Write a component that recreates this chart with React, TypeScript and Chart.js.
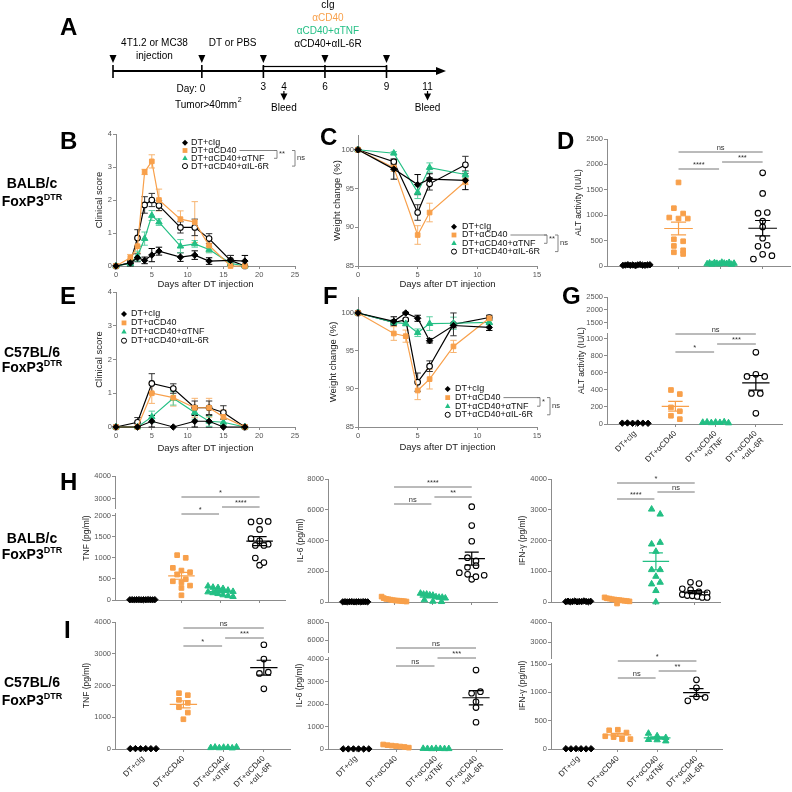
import React, { useEffect, useRef } from "react";
import { Chart, registerables } from "chart.js";
Chart.register(...registerables);

const FONT = "'Liberation Sans', Arial, Helvetica, sans-serif";
const ORANGE = "#F8A04B";
const GREEN = "#23BF84";
const AXIS = "#8c8c8c";
const TICK = "#555555";
const TXT = "#222222";

// ---------- Panel A (timeline) ----------
const TL_START_DAY = -4.33;
const TL_END_DAY = 11.9;
const TL_INJECT_DAYS = [-4.33, 0, 3, 6, 9];
const TL_NUM_DAYS = [3, 4, 6, 9, 11];
const TL_BLEED_DAYS = [4, 11];
const TL_TREAT = [3, 9];
const TL_TREATMENTS = ["cIg", "αCD40", "αCD40+αTNF", "αCD40+αIL-6R"];

// ---------- groups ----------
const GROUPS = ["DT+cIg", "DT+αCD40", "DT+αCD40+αTNF", "DT+αCD40+αIL-6R"];
const CAT_LABELS = [["DT+cIg"], ["DT+αCD40"], ["DT+αCD40", "+αTNF"], ["DT+αCD40", "+αIL-6R"]];

// ---------- B: clinical score BALB/c ----------
const B_DAYS = [0, 2, 3, 4, 5, 6, 9, 11, 13, 16, 18];
const B_CIG = [0, 0.09, 0.25, 0.17, 0.33, 0.45, 0.27, 0.33, 0.15, 0.17, 0.15];
const B_CIG_SEM = [0, 0.09, 0.12, 0.1, 0.2, 0.12, 0.13, 0.13, 0.1, 0.15, 0.17];
const B_CD40 = [0, 0.25, 0.6, 2.85, 3.17, 2.0, 1.42, 1.33, 0.62, 0, 0];
const B_CD40_SEM = [0, 0.1, 0.2, 0.08, 0.2, 0.33, 0.25, 0.62, 0.2, 0, 0];
const B_TNF = [0, 0.08, 0.3, 0.83, 1.53, 1.33, 0.6, 0.67, 0.5, 0.08, 0];
const B_TNF_SEM = [0, 0.08, 0.15, 0.2, 0.15, 0.1, 0.2, 0.1, 0.1, 0.08, 0];
const B_IL6R = [0, 0.1, 0.85, 1.85, 2.0, 1.83, 1.17, 1.17, 0.83, 0.17, 0];
const B_IL6R_SEM = [0, 0.1, 0.25, 0.25, 0.2, 0.15, 0.17, 0.25, 0.15, 0.15, 0];

// ---------- C: weight BALB/c ----------
const C_DAYS = [0, 3, 5, 6, 9];
const C_CIG = [100, 97.5, 95.5, 96.2, 96.05];
const C_CIG_SEM = [0, 1.3, 1.3, 0.7, 1.2];
const C_CD40 = [100, 97.7, 89.0, 91.9, 95.9];
const C_CD40_SEM = [0, 0.5, 1.2, 1.2, 0.4];
const C_TNF = [100, 99.55, 94.5, 97.7, 96.8];
const C_TNF_SEM = [0, 0.2, 0.8, 0.6, 0.4];
const C_IL6R = [100, 98.45, 91.9, 95.6, 98.05];
const C_IL6R_SEM = [0, 0.3, 1.0, 0.8, 1.1];

// ---------- E: clinical score C57BL/6 ----------
const E_DAYS = [0, 3, 5, 8, 11, 13, 15, 18];
const E_CIG = [0, 0, 0.17, 0, 0.17, 0.17, 0, 0];
const E_CIG_SEM = [0, 0, 0.17, 0, 0.17, 0.17, 0, 0];
const E_CD40 = [0, 0, 1.0, 0.87, 0.57, 0.57, 0.3, 0];
const E_CD40_SEM = [0, 0, 0.3, 0.25, 0.28, 0.28, 0.2, 0];
const E_TNF = [0, 0, 0.3, 0.85, 0.43, 0.17, 0.14, 0];
const E_TNF_SEM = [0, 0, 0.17, 0.2, 0.2, 0.15, 0.1, 0];
const E_IL6R = [0, 0.14, 1.29, 1.14, 0.57, 0.57, 0.43, 0];
const E_IL6R_SEM = [0, 0.14, 0.29, 0.14, 0.2, 0.2, 0.2, 0];

// ---------- F: weight C57BL/6 ----------
const F_DAYS = [0, 3, 4, 5, 6, 8, 11];
const F_CIG = [100, 98.9, 100, 99.3, 96.35, 98.35, 98.1];
const F_CIG_SEM = [0, 0.6, 0.1, 0.4, 0.3, 0.3, 0.4];
const F_CD40 = [100, 97.3, 96.95, 89.8, 91.3, 95.6, 99.3];
const F_CD40_SEM = [0, 0.9, 0.8, 1.2, 1.3, 0.8, 0.3];
const F_TNF = [100, 98.75, 98.6, 97.4, 98.6, 98.65, 98.75];
const F_TNF_SEM = [0, 0.3, 0.3, 0.5, 0.9, 0.8, 0.3];
const F_IL6R = [100, 98.75, 99.1, 90.9, 93.0, 98.5, 99.4];
const F_IL6R_SEM = [0, 0.3, 0.2, 1.2, 0.7, 1.5, 0.3];

// ---------- D: ALT BALB/c ----------
const D_CIG = [12, 18, 25, 15, 20, 10, 22, 28, 16, 14, 20, 24];
const D_CD40 = [1645, 1138, 1033, 954, 934, 934, 526, 487, 395, 309, 270, 237];
const D_TNF = [40, 55, 32, 62, 48, 36, 70, 52, 44, 66, 30, 50];
const D_IL6R = [1835, 1428, 1040, 1053, 882, 770, 546, 388, 408, 138, 230, 204];

// ---------- G: ALT C57BL/6 ----------
const G_CIG = [10, 12, 9, 11, 10, 8];
const G_CD40 = [400, 352, 195, 150, 97, 57];
const G_TNF = [18, 22, 14, 20, 16, 24, 12];
const G_IL6R = [843, 560, 585, 560, 360, 360, 125];

// ---------- H: BALB/c cytokines ----------
const HT_CIG = [5, 8, 3, 6, 10, 4, 7, 5, 9, 6, 4, 8];
const HT_CD40 = [1068, 1004, 765, 701, 661, 606, 494, 446, 422, 343, 287, 112];
const HT_TNF = [330, 300, 290, 270, 230, 200, 190, 170, 150, 120, 100, 80];
const HT_IL6R = [1860, 1880, 1870, 1680, 1460, 1410, 1300, 1330, 1300, 1000, 830, 890];

const H6_CIG = [10, 20, 5, 15, 25, 8, 12, 18, 6, 22, 14, 10];
const H6_CD40 = [350, 250, 200, 180, 150, 120, 100, 90, 80, 60, 50, 30];
const H6_TNF = [560, 500, 500, 450, 430, 330, 300, 300, 250, 130, 40, 20];
const H6_IL6R = [6200, 4970, 3950, 2880, 2670, 2260, 2360, 1910, 1800, 1475, 1650, 1740];

const HG_CIG = [10, 25, 5, 15, 30, 8, 20, 12, 35, 18, 6, 22];
const HG_CD40 = [150, 120, 110, 90, 80, 70, 60, 50, 40, 30, 20, -50];
const HG_TNF = [3016, 2854, 1881, 1935, 1643, 1048, 1048, 832, 584, 638, 368, 0];
const HG_IL6R = [640, 600, 430, 400, 330, 300, 240, 210, 200, 180, 150, 150];

// ---------- I: C57BL/6 cytokines ----------
const IT_CIG = [10, 12, 8, 11, 9, 10];
const IT_CD40 = [1758, 1695, 1547, 1453, 1316, 1147, 937];
const IT_TNF = [40, 55, 35, 50, 45, 30, 60];
const IT_IL6R = [3284, 2832, 2379, 2421, 1895];

const I6_CIG = [5, 3, 6, 4, 2, 5];
const I6_CD40 = [200, 170, 150, 130, 110, 90, 60];
const I6_TNF = [20, 15, 10, 20, 15, 10, 12];
const I6_IL6R = [3510, 2480, 2550, 2100, 1840, 1190];

const IG_CIG = [5, 3, 6, 4, 2, 5];
const IG_CD40 = [330, 340, 290, 225, 210, 175, 175];
const IG_TNF = [275, 230, 200, 165, 160, 140];
const IG_IL6R = [1220, 1080, 850, 920, 910];

// ---------- styles ----------
const STY = [
  { ps: "rectRot", r: 3.2, fill: "#000", line: "#000", err: "#000", bw: 1 },
  { ps: "rect", r: 3.3, fill: ORANGE, line: ORANGE, err: "#F7B470", bw: 1 },
  { ps: "triangle", r: 3.7, fill: GREEN, line: GREEN, err: "#5CCFA2", bw: 1 },
  { ps: "circle", r: 2.8, fill: "#fff", line: "#000", err: "#333", bw: 1.1 },
];

function drawMarker(ctx: any, g: number, x: number, y: number, r: number) {
  ctx.save();
  ctx.beginPath();
  if (g === 0) {
    ctx.moveTo(x, y - r); ctx.lineTo(x + r, y); ctx.lineTo(x, y + r); ctx.lineTo(x - r, y); ctx.closePath();
    ctx.fillStyle = "#000"; ctx.fill();
  } else if (g === 1) {
    const s = r * 0.8;
    ctx.rect(x - s, y - s, 2 * s, 2 * s); ctx.fillStyle = ORANGE; ctx.fill();
  } else if (g === 2) {
    ctx.moveTo(x, y - r); ctx.lineTo(x + r * 0.9, y + r * 0.6); ctx.lineTo(x - r * 0.9, y + r * 0.6); ctx.closePath();
    ctx.fillStyle = GREEN; ctx.fill();
  } else {
    ctx.arc(x, y, r * 0.85, 0, Math.PI * 2); ctx.fillStyle = "#fff"; ctx.fill();
    ctx.lineWidth = 1; ctx.strokeStyle = "#000"; ctx.stroke();
  }
  ctx.restore();
}

// ---------- plugins ----------
const errorBarPlugin = {
  id: "errbars",
  beforeDatasetsDraw(chart: any) {
    const ctx = chart.ctx;
    chart.data.datasets.forEach((ds: any, i: number) => {
      if (!ds.sem) return;
      const meta = chart.getDatasetMeta(i);
      const ys = chart.scales.y;
      ctx.save();
      ctx.strokeStyle = ds.errColor || ds.borderColor;
      ctx.lineWidth = 1;
      meta.data.forEach((pt: any, k: number) => {
        const s = ds.sem[k];
        if (!s) return;
        const v = ds.data[k].y;
        const y1 = ys.getPixelForValue(v + s);
        const y2 = ys.getPixelForValue(v - s);
        const x = pt.x;
        ctx.beginPath();
        ctx.moveTo(x, y1); ctx.lineTo(x, y2);
        ctx.moveTo(x - 3.2, y1); ctx.lineTo(x + 3.2, y1);
        ctx.moveTo(x - 3.2, y2); ctx.lineTo(x + 3.2, y2);
        ctx.stroke();
      });
      ctx.restore();
    });
  },
};

const swarmPlugin = {
  id: "swarm",
  afterDatasetsUpdate(chart: any) {
    const xs = chart.scales.x;
    const spacing = Math.abs(xs.getPixelForValue(1) - xs.getPixelForValue(0));
    const step = spacing * 0.22;
    const maxHalf = spacing * 0.32;
    const h = 5.5;
    chart.data.datasets.forEach((ds: any, i: number) => {
      if (!ds.swarm) return;
      const pts = chart.getDatasetMeta(i).data;
      const order = pts.map((_p: any, k: number) => k).sort((a: number, b: number) => pts[a].y - pts[b].y);
      let j = 0;
      while (j < order.length) {
        const y0 = pts[order[j]].y;
        let e = j;
        while (e < order.length && pts[order[e]].y - y0 < h) e++;
        const row = order.slice(j, e).sort((a: number, b: number) => a - b);
        const n = row.length;
        const s = n > 1 ? Math.min(step, (2 * maxHalf) / (n - 1)) : 0;
        row.forEach((k: number, r: number) => {
          pts[k].x += (r - (n - 1) / 2) * s;
        });
        j = e;
      }
    });
  },
};

const meanPlugin = {
  id: "meansem",
  afterDatasetsDraw(chart: any) {
    const ctx = chart.ctx;
    const xs = chart.scales.x;
    const ys = chart.scales.y;
    const spacing = Math.abs(xs.getPixelForValue(1) - xs.getPixelForValue(0));
    chart.data.datasets.forEach((ds: any) => {
      if (!ds.meanBar) return;
      const vals = ds.data.map((d: any) => d.y);
      const n = vals.length;
      const mean = vals.reduce((a: number, b: number) => a + b, 0) / n;
      const sd = Math.sqrt(vals.reduce((a: number, b: number) => a + (b - mean) * (b - mean), 0) / (n - 1));
      const sem = sd / Math.sqrt(n);
      const x = xs.getPixelForValue(ds.data[0].x);
      const ym = ys.getPixelForValue(mean);
      const y1 = ys.getPixelForValue(mean + sem);
      const y2 = ys.getPixelForValue(mean - sem);
      const hw = spacing * 0.34, cw = spacing * 0.18;
      ctx.save();
      ctx.strokeStyle = ds.meanColor;
      ctx.lineWidth = 1.2;
      ctx.beginPath();
      ctx.moveTo(x - hw, ym); ctx.lineTo(x + hw, ym);
      ctx.moveTo(x, y1); ctx.lineTo(x, y2);
      ctx.moveTo(x - cw, y1); ctx.lineTo(x + cw, y1);
      ctx.moveTo(x - cw, y2); ctx.lineTo(x + cw, y2);
      ctx.stroke();
      ctx.restore();
    });
  },
};

const sigPlugin = {
  id: "sig",
  afterDraw(chart: any, _a: any, o: any) {
    if (!o || !o.bars) return;
    const ctx = chart.ctx;
    const xs = chart.scales.x;
    const ca = chart.chartArea;
    ctx.save();
    o.bars.forEach((b: any) => {
      const x1 = xs.getPixelForValue(b.a) + (b.a === 2 ? 1.5 : 0);
      const x2 = xs.getPixelForValue(b.b) - (b.b === 2 ? 1.5 : 0);
      const y = ca.top + b.dy;
      ctx.strokeStyle = "#777";
      ctx.lineWidth = 1;
      ctx.beginPath(); ctx.moveTo(x1, y); ctx.lineTo(x2, y); ctx.stroke();
      ctx.fillStyle = "#333";
      ctx.font = `7.5px ${FONT}`;
      ctx.textAlign = "center";
      ctx.textBaseline = "bottom";
      ctx.fillText(b.t, (x1 + x2) / 2, y - 0.5);
    });
    ctx.restore();
  },
};

const legendPlugin = {
  id: "leg",
  afterDraw(chart: any, _a: any, o: any) {
    if (!o || !o.show) return;
    const ca = chart.chartArea;
    const ctx = chart.ctx;
    ctx.save();
    const rowY = (r: number) => ca.top + o.y0 + r * o.dy;
    ctx.font = `${o.size}px ${FONT}`;
    ctx.textBaseline = "middle";
    ctx.textAlign = "left";
    GROUPS.forEach((label, g) => {
      drawMarker(ctx, g, ca.left + o.mx, rowY(g), 3);
      ctx.fillStyle = "#111";
      ctx.fillText(label, ca.left + o.tx, rowY(g));
    });
    if (o.brackets) {
      const b = o.brackets;
      const endText = ca.left + o.tx + ctx.measureText(GROUPS[b.row]).width + 3;
      ctx.strokeStyle = "#777";
      ctx.lineWidth = 0.9;
      ctx.beginPath(); ctx.moveTo(endText, rowY(b.row)); ctx.lineTo(ca.left + b.items[0].x, rowY(b.row)); ctx.stroke();
      b.items.forEach((it: any) => {
        const x = ca.left + it.x;
        const y1 = rowY(it.r1), y2 = rowY(it.r2);
        ctx.beginPath();
        ctx.moveTo(x - 3, y1); ctx.lineTo(x, y1); ctx.lineTo(x, y2); ctx.lineTo(x - 3, y2);
        ctx.stroke();
        ctx.font = `7.5px ${FONT}`;
        ctx.fillStyle = "#333";
        ctx.fillText(it.t, x + 2, (y1 + y2) / 2);
      });
    }
    ctx.restore();
  },
};

const yTitlePlugin = {
  id: "ytitle",
  afterDraw(chart: any, _a: any, o: any) {
    if (!o || !o.text) return;
    const ca = chart.chartArea;
    const ctx = chart.ctx;
    ctx.save();
    ctx.translate(ca.left - o.off, (ca.top + ca.bottom) / 2);
    ctx.rotate(-Math.PI / 2);
    ctx.font = `${o.size}px ${FONT}`;
    ctx.fillStyle = TXT;
    ctx.textAlign = "center";
    ctx.textBaseline = "middle";
    ctx.fillText(o.text, 0, 0);
    ctx.restore();
  },
};

const breakPlugin = {
  id: "brk",
  afterDraw(chart: any, _a: any, o: any) {
    if (!o || !o.on) return;
    const ctx = chart.ctx;
    const y = chart.scales.y.top;
    const x = chart.chartArea.left;
    ctx.save();
    ctx.fillStyle = "#fff";
    ctx.fillRect(x - 4, y - 2, 7, 4);
    ctx.restore();
  },
};

const timelinePlugin = {
  id: "timeline",
  afterDraw(chart: any) {
    const ctx = chart.ctx;
    const xs = chart.scales.x;
    const px = (d: number) => xs.getPixelForValue(d);
    const Y = 71;
    ctx.save();
    ctx.fillStyle = "#000";
    ctx.strokeStyle = "#000";
    ctx.lineWidth = 1.2;
    ctx.strokeRect(px(TL_TREAT[0]), Y - 4.5, px(TL_TREAT[1]) - px(TL_TREAT[0]), 4.5);
    ctx.lineWidth = 2;
    ctx.beginPath(); ctx.moveTo(px(TL_START_DAY), Y); ctx.lineTo(px(TL_END_DAY) - 8, Y); ctx.stroke();
    ctx.beginPath(); ctx.moveTo(px(TL_END_DAY), Y); ctx.lineTo(px(TL_END_DAY) - 10, Y - 4); ctx.lineTo(px(TL_END_DAY) - 10, Y + 4); ctx.closePath(); ctx.fill();
    ctx.lineWidth = 1.6;
    TL_INJECT_DAYS.forEach((d) => {
      const x = px(d);
      ctx.beginPath(); ctx.moveTo(x, Y - 6); ctx.lineTo(x, Y + 7); ctx.stroke();
      ctx.beginPath(); ctx.moveTo(x - 3.5, 55); ctx.lineTo(x + 3.5, 55); ctx.lineTo(x, 63); ctx.closePath(); ctx.fill();
    });
    TL_BLEED_DAYS.forEach((d) => {
      const x = px(d);
      ctx.lineWidth = 1.2;
      ctx.beginPath(); ctx.moveTo(x, 91); ctx.lineTo(x, 95); ctx.stroke();
      ctx.beginPath(); ctx.moveTo(x - 3.5, 93.5); ctx.lineTo(x + 3.5, 93.5); ctx.lineTo(x, 100.5); ctx.closePath(); ctx.fill();
      ctx.font = `10px ${FONT}`;
      ctx.textAlign = "center";
      ctx.textBaseline = "middle";
      ctx.fillText("Bleed", x, 108);
    });
    ctx.font = `10px ${FONT}`;
    ctx.textAlign = "center";
    ctx.textBaseline = "middle";
    TL_NUM_DAYS.forEach((d) => ctx.fillText(String(d), px(d), 87));
    const midInj = (px(TL_INJECT_DAYS[0]) + px(TL_INJECT_DAYS[1])) / 2;
    ctx.fillText("4T1.2 or MC38", midInj - 3, 43);
    ctx.fillText("injection", midInj - 3, 56);
    ctx.fillText("DT or PBS", (px(0) + px(3)) / 2, 43);
    const colors = ["#000", ORANGE, GREEN, "#000"];
    TL_TREATMENTS.forEach((t, i) => {
      ctx.fillStyle = colors[i];
      ctx.fillText(t, px(6) + 3, 5.5 + i * 12.8);
    });
    ctx.fillStyle = "#000";
    ctx.textAlign = "right";
    ctx.fillText("Day: 0", px(0) + 3.5, 89);
    ctx.textAlign = "left";
    ctx.fillText("Tumor>40mm", 175, 105);
    const w = ctx.measureText("Tumor>40mm").width;
    ctx.font = `7px ${FONT}`;
    ctx.fillText("2", 175 + w + 0.5, 100);
    ctx.restore();
  },
};

// ---------- layout helpers ----------
const PL = 6, PT = 45, PR = 62, PB = 8, YW = 36;
type CA = { l: number; t: number; r: number; b: number };

function frame(ca: CA, xh: number) {
  return {
    x: ca.l - YW - PL,
    y: ca.t - PT,
    w: ca.r - ca.l + YW + PL + PR,
    h: ca.b - ca.t + PT + xh + PB,
    padding: { left: PL, top: PT, right: PR, bottom: PB },
  };
}

function gridOpts() {
  return { display: true, drawOnChartArea: false, drawTicks: true, tickLength: 3, color: AXIS, lineWidth: 1 };
}

function xScale(min: number, max: number, ticks: number[], xh: number, o: any) {
  return {
    type: "linear",
    position: "bottom",
    min,
    max,
    afterBuildTicks: (s: any) => { s.ticks = ticks.map((v) => ({ value: v })); },
    afterFit: (s: any) => { s.height = xh; },
    grid: gridOpts(),
    border: { display: true, color: AXIS, width: 1 },
    ticks: {
      color: o.rotate ? TXT : TICK,
      font: { family: FONT, size: o.rotate ? 8 : 7.5 },
      padding: o.rotate ? 2 : 1,
      autoSkip: false,
      minRotation: o.rotate ? 45 : 0,
      maxRotation: o.rotate ? 45 : 0,
      callback: o.cat ? (v: number) => (o.rotate ? CAT_LABELS[Math.round(v)] : "") : (v: number) => String(v),
    },
    title: o.title
      ? { display: true, text: o.title, color: TXT, font: { family: FONT, size: 9.5 }, padding: 0 }
      : { display: false },
  };
}

function yScale(min: number, max: number, ticks: number[], extra: any = {}) {
  return {
    type: "linear",
    position: "left",
    min,
    max,
    afterBuildTicks: (s: any) => { s.ticks = ticks.map((v) => ({ value: v })); },
    afterFit: (s: any) => { s.width = YW; },
    grid: gridOpts(),
    border: { display: true, color: AXIS, width: 1 },
    ticks: { color: TICK, font: { family: FONT, size: 7.5 }, padding: 1, autoSkip: false, callback: (v: number) => String(v) },
    ...extra,
  };
}

type Spec = { x: number; y: number; w: number; h: number; config: any };

function lineSpec(o: any): Spec {
  const f = frame(o.ca, o.xh);
  const datasets = o.series.map((vals: number[], g: number) => ({
    data: o.days.map((d: number, k: number) => ({ x: d, y: vals[k] })),
    sem: o.sems[g],
    errColor: STY[g].err,
    showLine: true,
    borderColor: STY[g].line,
    backgroundColor: STY[g].fill,
    pointBackgroundColor: STY[g].fill,
    pointBorderColor: STY[g].line,
    pointBorderWidth: STY[g].bw,
    pointStyle: STY[g].ps,
    pointRadius: STY[g].r,
    borderWidth: 1.2,
    clip: false,
  }));
  return {
    x: f.x, y: f.y, w: f.w, h: f.h,
    config: {
      type: "scatter",
      data: { datasets },
      options: {
        responsive: false,
        animation: false,
        events: [],
        layout: { padding: f.padding },
        plugins: {
          legend: { display: false },
          tooltip: { enabled: false },
          ytitle: { text: o.yTitle, off: o.yOff, size: 9.5 },
          leg: o.legend,
        },
        scales: {
          x: xScale(0, o.xMax, o.xTicks, o.xh, { title: "Days after DT injection" }),
          y: yScale(o.yMin, o.yMax, o.yTicks),
        },
      },
      plugins: [errorBarPlugin, legendPlugin, yTitlePlugin],
    },
  };
}

function dotSpec(o: any): Spec {
  const f = frame(o.ca, o.xh);
  const datasets = o.groups.map((vals: number[], g: number) => ({
    data: vals.map((v) => ({ x: g, y: v })),
    yAxisID: "y",
    showLine: false,
    pointStyle: STY[g].ps,
    pointRadius: STY[g].r,
    pointBackgroundColor: STY[g].fill,
    pointBorderColor: STY[g].line,
    pointBorderWidth: STY[g].bw,
    clip: false,
    swarm: true,
    meanBar: true,
    meanColor: STY[g].line,
  }));
  const scales: any = {
    x: xScale(-0.7, 3.65, [0, 1, 2, 3], o.xh, { cat: true, rotate: o.rotate }),
  };
  if (o.up) {
    scales.y = yScale(0, o.lowMax, o.lowTicks, { stack: "brk", stackWeight: o.up.wLow });
    scales.y2 = yScale(o.up.min, o.up.max, o.up.ticks, { stack: "brk", stackWeight: o.up.wUp });
  } else {
    scales.y = yScale(0, o.lowMax, o.lowTicks);
  }
  return {
    x: f.x, y: f.y, w: f.w, h: f.h,
    config: {
      type: "scatter",
      data: { datasets },
      options: {
        responsive: false,
        animation: false,
        events: [],
        layout: { padding: f.padding },
        plugins: {
          legend: { display: false },
          tooltip: { enabled: false },
          ytitle: { text: o.yTitle, off: o.yOff, size: 8.5 },
          sig: { bars: o.sig },
          brk: { on: !!o.up },
        },
        scales,
      },
      plugins: [swarmPlugin, meanPlugin, sigPlugin, yTitlePlugin, breakPlugin],
    },
  };
}

function timelineSpec(): Spec {
  return {
    x: 0, y: 0, w: 792, h: 120,
    config: {
      type: "scatter",
      data: { datasets: [{ data: [] }] },
      options: {
        responsive: false,
        animation: false,
        events: [],
        layout: { padding: { left: 113, right: 792 - 446, top: 0, bottom: 0 } },
        plugins: { legend: { display: false }, tooltip: { enabled: false } },
        scales: {
          x: { type: "linear", min: TL_START_DAY, max: TL_END_DAY, display: false },
          y: { type: "linear", min: 0, max: 1, display: false },
        },
      },
      plugins: [timelinePlugin],
    },
  };
}

function buildSpecs(): Spec[] {
  const specs: Spec[] = [];
  specs.push(timelineSpec());
  specs.push(lineSpec({
    ca: { l: 116, t: 134, r: 295, b: 266 }, xh: 24, days: B_DAYS,
    series: [B_CIG, B_CD40, B_TNF, B_IL6R], sems: [B_CIG_SEM, B_CD40_SEM, B_TNF_SEM, B_IL6R_SEM],
    xMax: 25, xTicks: [0, 5, 10, 15, 20, 25], yMin: 0, yMax: 4, yTicks: [0, 1, 2, 3, 4],
    yTitle: "Clinical score", yOff: 17,
    legend: { show: true, mx: 69, tx: 75, y0: 8.7, dy: 7.8, size: 9,
      brackets: { row: 1, items: [{ x: 161, r1: 1, r2: 2, t: "**" }, { x: 179, r1: 1, r2: 3, t: "ns" }] } },
  }));
  specs.push(lineSpec({
    ca: { l: 358, t: 135, r: 537, b: 266 }, xh: 24, days: C_DAYS,
    series: [C_CIG, C_CD40, C_TNF, C_IL6R], sems: [C_CIG_SEM, C_CD40_SEM, C_TNF_SEM, C_IL6R_SEM],
    xMax: 15, xTicks: [0, 5, 10, 15], yMin: 85, yMax: 101.9, yTicks: [85, 90, 95, 100],
    yTitle: "Weight change (%)", yOff: 21,
    legend: { show: true, mx: 96, tx: 104, y0: 91.7, dy: 8.3, size: 9,
      brackets: { row: 1, items: [{ x: 189, r1: 1, r2: 2, t: "**" }, { x: 200, r1: 1, r2: 3, t: "ns" }] } },
  }));
  specs.push(dotSpec({
    ca: { l: 607, t: 139, r: 790, b: 266 }, xh: 8, groups: [D_CIG, D_CD40, D_TNF, D_IL6R],
    lowMax: 2500, lowTicks: [0, 500, 1000, 1500, 2000, 2500], yTitle: "ALT activity (IU/L)", yOff: 28,
    sig: [{ a: 1, b: 3, dy: 13, t: "ns" }, { a: 2, b: 3, dy: 23, t: "***" }, { a: 1, b: 2, dy: 30, t: "****" }],
  }));
  specs.push(lineSpec({
    ca: { l: 116, t: 292, r: 295, b: 427 }, xh: 27, days: E_DAYS,
    series: [E_CIG, E_CD40, E_TNF, E_IL6R], sems: [E_CIG_SEM, E_CD40_SEM, E_TNF_SEM, E_IL6R_SEM],
    xMax: 25, xTicks: [0, 5, 10, 15, 20, 25], yMin: 0, yMax: 4, yTicks: [0, 1, 2, 3, 4],
    yTitle: "Clinical score", yOff: 17,
    legend: { show: true, mx: 8, tx: 15, y0: 22, dy: 8.9, size: 9 },
  }));
  specs.push(lineSpec({
    ca: { l: 358, t: 297, r: 537, b: 427 }, xh: 26, days: F_DAYS,
    series: [F_CIG, F_CD40, F_TNF, F_IL6R], sems: [F_CIG_SEM, F_CD40_SEM, F_TNF_SEM, F_IL6R_SEM],
    xMax: 15, xTicks: [0, 5, 10, 15], yMin: 85, yMax: 102.1, yTicks: [85, 90, 95, 100],
    yTitle: "Weight change (%)", yOff: 25,
    legend: { show: true, mx: 89.7, tx: 97, y0: 92, dy: 8.6, size: 9,
      brackets: { row: 1, items: [{ x: 182, r1: 1, r2: 2, t: "*" }, { x: 192, r1: 1, r2: 3, t: "ns" }] } },
  }));
  specs.push(dotSpec({
    ca: { l: 607, t: 297, r: 782, b: 424 }, xh: 48, rotate: true, groups: [G_CIG, G_CD40, G_TNF, G_IL6R],
    lowMax: 1094, lowTicks: [0, 200, 400, 600, 800, 1000],
    up: { min: 1192, max: 2500, ticks: [1500, 2000, 2500], wUp: 34, wLow: 93 },
    yTitle: "ALT activity (IU/L)", yOff: 25,
    sig: [{ a: 1, b: 3, dy: 37, t: "ns" }, { a: 2, b: 3, dy: 47, t: "***" }, { a: 1, b: 2, dy: 55, t: "*" }],
  }));
  specs.push(dotSpec({
    ca: { l: 115, t: 476, r: 285, b: 600 }, xh: 8, groups: [HT_CIG, HT_CD40, HT_TNF, HT_IL6R],
    lowMax: 2119, lowTicks: [0, 500, 1000, 1500, 2000],
    up: { min: 2478, max: 4000, ticks: [3000, 4000], wUp: 35, wLow: 89 },
    yTitle: "TNF (pg/ml)", yOff: 28,
    sig: [{ a: 1, b: 3, dy: 21, t: "*" }, { a: 2, b: 3, dy: 31, t: "****" }, { a: 1, b: 2, dy: 38, t: "*" }],
  }));
  specs.push(dotSpec({
    ca: { l: 328, t: 479, r: 497, b: 602 }, xh: 8, groups: [H6_CIG, H6_CD40, H6_TNF, H6_IL6R],
    lowMax: 8000, lowTicks: [0, 2000, 4000, 6000, 8000], yTitle: "IL-6 (pg/ml)", yOff: 27,
    sig: [{ a: 1, b: 3, dy: 8, t: "****" }, { a: 2, b: 3, dy: 18, t: "**" }, { a: 1, b: 2, dy: 25, t: "ns" }],
  }));
  specs.push(dotSpec({
    ca: { l: 551, t: 479, r: 720, b: 602 }, xh: 8, groups: [HG_CIG, HG_CD40, HG_TNF, HG_IL6R],
    lowMax: 4000, lowTicks: [0, 1000, 2000, 3000, 4000], yTitle: "IFN-γ (pg/ml)", yOff: 28,
    sig: [{ a: 1, b: 3, dy: 4, t: "*" }, { a: 2, b: 3, dy: 13, t: "ns" }, { a: 1, b: 2, dy: 20, t: "****" }],
  }));
  specs.push(dotSpec({
    ca: { l: 115, t: 622, r: 290, b: 749 }, xh: 45, rotate: true, groups: [IT_CIG, IT_CD40, IT_TNF, IT_IL6R],
    lowMax: 4000, lowTicks: [0, 1000, 2000, 3000, 4000], yTitle: "TNF (pg/ml)", yOff: 28,
    sig: [{ a: 1, b: 3, dy: 6, t: "ns" }, { a: 2, b: 3, dy: 16, t: "***" }, { a: 1, b: 2, dy: 24, t: "*" }],
  }));
  specs.push(dotSpec({
    ca: { l: 328, t: 622, r: 502, b: 749 }, xh: 45, rotate: true, groups: [I6_CIG, I6_CD40, I6_TNF, I6_IL6R],
    lowMax: 4180, lowTicks: [0, 1000, 2000, 3000, 4000],
    up: { min: 4400, max: 8000, ticks: [6000, 8000], wUp: 33, wLow: 94 },
    yTitle: "IL-6 (pg/ml)", yOff: 28,
    sig: [{ a: 1, b: 3, dy: 26, t: "ns" }, { a: 2, b: 3, dy: 36, t: "***" }, { a: 1, b: 2, dy: 44, t: "ns" }],
  }));
  specs.push(dotSpec({
    ca: { l: 551, t: 622, r: 722, b: 749 }, xh: 45, rotate: true, groups: [IG_CIG, IG_CD40, IG_TNF, IG_IL6R],
    lowMax: 1553, lowTicks: [0, 500, 1000, 1500],
    up: { min: 2050, max: 4000, ticks: [3000, 4000], wUp: 39, wLow: 88 },
    yTitle: "IFN-γ (pg/ml)", yOff: 28,
    sig: [{ a: 1, b: 3, dy: 39, t: "*" }, { a: 2, b: 3, dy: 49, t: "**" }, { a: 1, b: 2, dy: 56, t: "ns" }],
  }));
  return specs;
}

const SPECS = buildSpecs();

function ChartCanvas({ spec }: { spec: Spec }) {
  const ref = useRef<HTMLCanvasElement>(null);
  useEffect(() => {
    if (!ref.current) return;
    const chart = new Chart(ref.current, spec.config);
    return () => chart.destroy();
  }, [spec]);
  return (
    <canvas
      ref={ref}
      width={spec.w}
      height={spec.h}
      style={{ position: "absolute", left: spec.x, top: spec.y, width: spec.w, height: spec.h }}
    />
  );
}

const LETTERS = [
  { t: "A", x: 60, y: 15 }, { t: "B", x: 60, y: 129 }, { t: "C", x: 320, y: 125 }, { t: "D", x: 557, y: 129 },
  { t: "E", x: 60, y: 284 }, { t: "F", x: 323, y: 284 }, { t: "G", x: 562, y: 284 },
  { t: "H", x: 60, y: 470 }, { t: "I", x: 64, y: 618 },
];

const ROWS = [
  { a: "BALB/c", y1: 176, y2: 194 },
  { a: "C57BL/6", y1: 345, y2: 360 },
  { a: "BALB/c", y1: 531, y2: 547 },
  { a: "C57BL/6", y1: 675, y2: 693 },
];

export default function App() {
  const lbl: any = { position: "absolute", left: 0, width: 64, textAlign: "center", fontFamily: FONT, fontWeight: "bold", fontSize: 14, lineHeight: "14px", color: "#000", whiteSpace: "nowrap" };
  return (
    <div style={{ position: "fixed", left: 0, top: 0, width: 792, height: 792, background: "#fff", overflow: "hidden" }}>
      {SPECS.map((s, i) => (
        <ChartCanvas key={i} spec={s} />
      ))}
      {LETTERS.map((l) => (
        <div key={l.t} style={{ position: "absolute", left: l.x, top: l.y, fontFamily: FONT, fontWeight: "bold", fontSize: 24, lineHeight: "24px", color: "#000" }}>
          {l.t}
        </div>
      ))}
      {ROWS.map((r, i) => (
        <React.Fragment key={i}>
          <div style={{ ...lbl, top: r.y1 }}>{r.a}</div>
          <div style={{ ...lbl, top: r.y2 }}>
            FoxP3<sup style={{ fontSize: 9, verticalAlign: "6px", lineHeight: 0 }}>DTR</sup>
          </div>
        </React.Fragment>
      ))}
    </div>
  );
}
